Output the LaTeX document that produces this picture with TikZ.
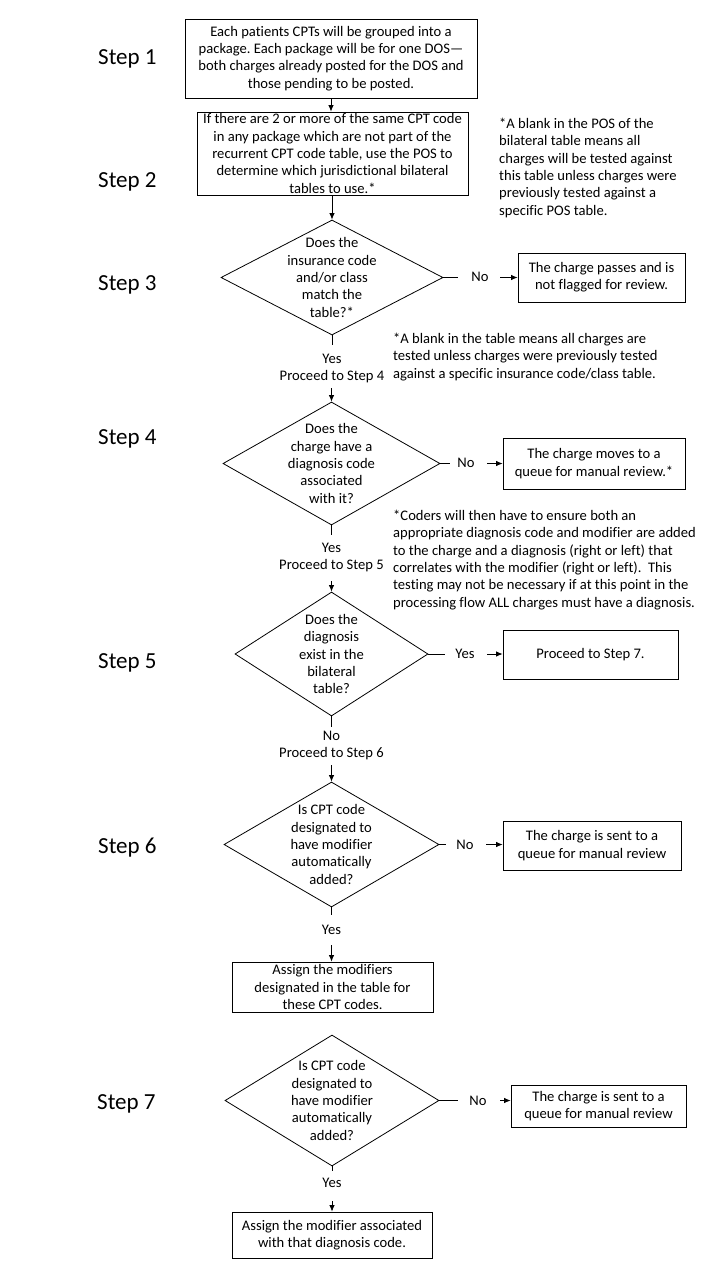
\documentclass[tikz,border=0pt]{standalone}
\usepackage{fontspec}
\setmainfont{Carlito}[Ligatures=NoCommon]
\frenchspacing
\usetikzlibrary{shapes.geometric,arrows.meta}
\begin{document}
\begin{tikzpicture}[x=1pt,y=-1pt,
  every node/.style={font=\fontsize{14.6}{17.3}\selectfont},
  box/.style={draw,line width=0.8pt,rectangle,inner sep=0pt,align=center},
  dia/.style={draw,line width=0.8pt,diamond,inner sep=0pt},
  txt/.style={inner sep=0pt,align=center},
  note/.style={inner sep=0pt,align=left,anchor=north west},
  steplbl/.style={inner sep=0pt,anchor=west,font=\fontsize{23}{26}\selectfont},
  ln/.style={line width=0.8pt},
  arr/.style={line width=0.8pt,-{Latex[length=6.5pt,width=5.5pt]}}]
\useasboundingbox (0,0) rectangle (721,1266);
% step labels
\node[steplbl] (s1) at (98,59) {Step 1};
\node[steplbl] (s2) at (98,182) {Step 2};
\node[steplbl] (s3) at (98,285) {Step 3};
\node[steplbl] (s4) at (98,439) {Step 4};
\node[steplbl] (s5) at (98,663) {Step 5};
\node[steplbl] (s6) at (98,848) {Step 6};
\node[steplbl] (s7) at (97,1104) {Step 7};
% boxes
\node[box,minimum width=292,minimum height=79] (b1) at (331,58.5) {Each patients CPTs will be grouped into a\\package. Each package will be for one DOS—\\both charges already posted for the DOS and\\those pending to be posted.};
\node[box,minimum width=271,minimum height=83] (b2) at (332.5,153.5) {If there are 2 or more of the same CPT code\\in any package which are not part of the\\recurrent CPT code table, use the POS to\\determine which jurisdictional bilateral\\tables to use.*};
% diamond 3
\node[dia,minimum width=222,minimum height=115] (d3) at (332,277.5) {};
\node[txt] (d3t) at (d3.center) {Does the\\insurance code\\and/or class\\match the\\table?*};
\node[box,minimum width=167,minimum height=49] (b3) at (601.5,277.5) {The charge passes and is\\not flagged for review.};
% diamond 4
\node[dia,minimum width=217,minimum height=123] (d4) at (331.5,463.5) {};
\node[txt] (d4t) at (d4.center) {Does the\\charge have a\\diagnosis code\\associated\\with it?};
\node[box,minimum width=182,minimum height=51] (b4) at (594,463.5) {The charge moves to a\\queue for manual review.*};
% diamond 5
\node[dia,minimum width=193,minimum height=124] (d5) at (331.5,654) {};
\node[txt] (d5t) at (d5.center) {Does the\\diagnosis\\exist in the\\bilateral\\table?};
\node[box,minimum width=175,minimum height=49] (b5) at (590.5,654.5) {Proceed to Step 7.};
% diamond 6
\node[dia,minimum width=215,minimum height=125] (d6) at (331.5,844.5) {};
\node[txt] (d6t) at (d6.center) {Is CPT code\\designated to\\have modifier\\automatically\\added?};
\node[box,minimum width=178,minimum height=49] (b6) at (592,845.5) {The charge is sent to a\\queue for manual review};
\node[box,minimum width=201,minimum height=50] (b7) at (332.5,987) {Assign the modifiers\\designated in the table for\\these CPT codes.};
% diamond 7
\node[dia,minimum width=214,minimum height=131] (d7) at (332,1100.5) {};
\node[txt] (d7t) at (d7.center) {Is CPT code\\designated to\\have modifier\\automatically\\added?};
\node[box,minimum width=175,minimum height=42] (b8) at (598.5,1106) {The charge is sent to a\\queue for manual review};
\node[box,minimum width=200,minimum height=46] (b9) at (332,1235) {Assign the modifier associated\\with that diagnosis code.};
% notes
\node[note] (nA) at (499,118) {*A blank in the POS of the\\bilateral table means all\\charges will be tested against\\this table unless charges were\\previously tested against a\\specific POS table.};
\node[note] (nB) at (393,333) {*A blank in the table means all charges are\\tested unless charges were previously tested\\against a specific insurance code/class table.};
\node[note] (nC) at (393,510) {*Coders will then have to ensure both an\\appropriate diagnosis code and modifier are added\\to the charge and a diagnosis (right or left) that\\correlates with the modifier (right or left).\ \ This\\testing may not be necessary if at this point in the\\processing flow ALL charges must have a diagnosis.};
% top connectors
\draw[arr] (b1.south) -- (b1.south |- b2.north);
\draw[arr] (b2.south -| d3.north) -- (d3.north);
% step 3
\node[txt] (no3) at (480,277) {No};
\coordinate (n3a) at (458,277.5);
\coordinate (n3b) at (500,277.5);
\draw[ln] (d3.east) -- (n3a);
\draw[arr] (n3b) -- (n3b -| b3.west);
\node[txt] (y3) at (332,368.5) {Yes\\Proceed to Step 4};
\coordinate (y3a) at (332,345);
\coordinate (y3b) at (332,388);
\draw[ln] (d3.south) -- (y3a);
\draw[arr] (y3b -| d4.north) -- (d4.north);
% step 4
\node[txt] (no4) at (466,463) {No};
\coordinate (n4a) at (450,463.5);
\coordinate (n4b) at (487,463.5);
\draw[ln] (d4.east) -- (n4a);
\draw[arr] (n4b) -- (n4b -| b4.west);
\node[txt] (y4) at (331.5,557.5) {Yes\\Proceed to Step 5};
\coordinate (y4a) at (331.5,535);
\coordinate (y4b) at (331.5,581);
\draw[ln] (d4.south) -- (y4a);
\draw[arr] (y4b) -- (d5.north);
% step 5
\node[txt] (ye5) at (465,654) {Yes};
\coordinate (n5a) at (445,654);
\coordinate (n5b) at (487,654);
\draw[ln] (d5.east) -- (n5a);
\draw[arr] (n5b) -- (n5b -| b5.west);
\node[txt] (y5) at (331.5,745.5) {No\\Proceed to Step 6};
\coordinate (y5a) at (331.5,727);
\coordinate (y5b) at (331.5,765);
\draw[ln] (d5.south) -- (y5a);
\draw[arr] (y5b) -- (d6.north);
% step 6
\node[txt] (no6) at (465,845) {No};
\coordinate (n6a) at (446,844.5);
\coordinate (n6b) at (486,844.5);
\draw[ln] (d6.east) -- (n6a);
\draw[arr] (n6b) -- (n6b -| b6.west);
\node[txt] (y6) at (331.5,930) {Yes};
\coordinate (y6a) at (331.5,915);
\coordinate (y6b) at (331.5,945);
\draw[ln] (d6.south) -- (y6a);
\draw[arr] (y6b) -- (y6b |- b7.north);
% step 7
\node[txt] (no7) at (478,1101) {No};
\coordinate (n7a) at (458,1100.5);
\coordinate (n7b) at (500,1100.5);
\draw[ln] (d7.east) -- (n7a);
\draw[arr] (n7b) -- (n7b -| b8.west);
\node[txt] (y7) at (332,1183) {Yes};
\coordinate (y7a) at (332,1171);
\coordinate (y7b) at (332,1201);
\draw[ln] (d7.south) -- (y7a);
\draw[arr] (y7b) -- (y7b |- b9.north);
\end{tikzpicture}
\end{document}
